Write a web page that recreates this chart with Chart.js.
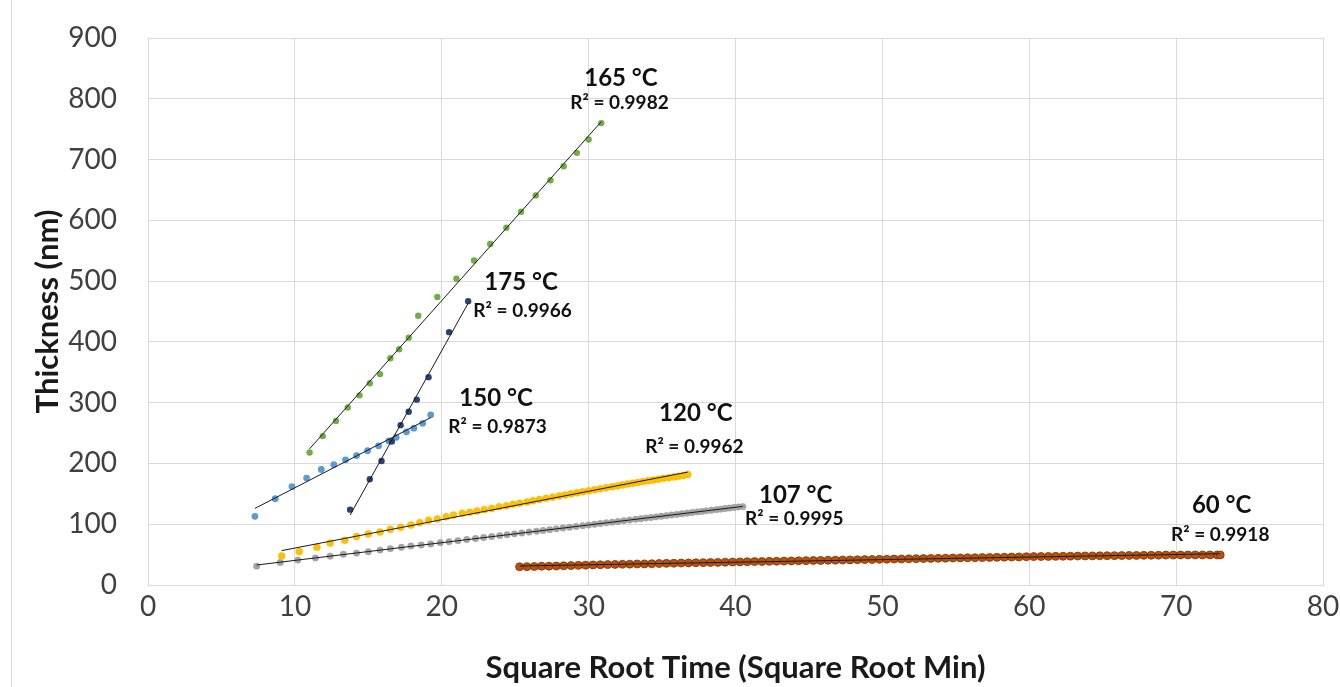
<!DOCTYPE html>
<html>
<head>
<meta charset="utf-8">
<script src="https://cdn.jsdelivr.net/npm/chart.js@4.4.1/dist/chart.umd.min.js"></script>
<style>
  html, body { margin: 0; padding: 0; background: #ffffff; overflow: hidden; }
  #wrap { width: 1340px; height: 687px; }
</style>
</head>
<body>
<div id="wrap"><canvas id="c" width="1340" height="687"></canvas></div>
<script>
// ---------------- DATA ----------------
const xTicks = [0, 10, 20, 30, 40, 50, 60, 70, 80];
const yTicks = [0, 100, 200, 300, 400, 500, 600, 700, 800, 900];

const seriesNames = ['165 °C', '175 °C', '150 °C', '120 °C', '107 °C', '60 °C'];
const rSquared = [0.9982, 0.9966, 0.9873, 0.9962, 0.9995, 0.9918];

// 165 °C
const t165X = [11.0, 11.9, 12.8, 13.6, 14.4, 15.1, 15.8, 16.5, 17.1, 17.75, 18.4, 19.7, 21.0, 22.2, 23.3, 24.4, 25.4, 26.4, 27.4, 28.3, 29.2, 30.0, 30.86];
const t165Y = [218, 245, 270, 292, 312, 332, 347, 373, 388, 407, 443, 474, 504, 534, 561, 588, 614, 641, 666, 689, 711, 733, 760];

// 175 °C
const t175X = [13.76, 15.1, 15.9, 16.6, 17.2, 17.75, 18.3, 19.1, 20.5, 21.8];
const t175Y = [124, 174, 204, 236, 263, 285, 305, 342, 416, 467];

// 150 °C
const t150X = [7.28, 8.66, 9.8, 10.8, 11.8, 12.65, 13.45, 14.2, 14.95, 15.7, 16.4, 16.9, 17.6, 18.1, 18.7, 19.25];
const t150Y = [113, 142, 162, 176, 190, 198, 206, 213, 221, 229, 237, 243, 252, 258, 266, 280];

// 120 °C
const t120X = [9.1, 10.3, 11.5, 12.4, 13.4, 14.2, 15.0, 15.8, 16.5, 17.2, 17.9, 18.5, 19.1, 19.7, 20.3, 20.8, 21.4, 21.9, 22.4, 22.9,
  23.4, 23.9, 24.4, 24.85, 25.3, 25.8, 26.2, 26.65, 27.1, 27.55, 28.0, 28.4, 28.8, 29.2, 29.6, 30.0, 30.4, 30.8, 31.2, 31.6,
  31.95, 32.3, 32.65, 33.0, 33.35, 33.7, 34.05, 34.4, 34.75, 35.1, 35.45, 35.8, 36.1, 36.45, 36.75];
const t120Y = [47.7, 55, 62, 69, 73.5, 80, 84, 87, 91.6, 95, 98.7, 102.5, 106.4, 108.6, 112.4, 115, 118, 119.5, 121.7, 124,
  126, 128.8, 130.2, 132.7, 134.4, 136.5, 138.7, 140.6, 142.7, 144.5, 146.6, 148.2, 150.0, 151.6, 153.3, 155.0, 156.6, 158.3, 160.0, 161.6,
  163.0, 164.5, 166.0, 167.4, 168.8, 170.2, 171.5, 172.8, 174.2, 175.5, 176.6, 177.8, 178.9, 180.2, 182.0];

// 107 °C
const t107X = [7.4, 9.0, 10.2, 11.4, 12.4, 13.3, 14.2, 15.0, 15.8, 16.5, 17.25, 17.9, 18.6, 19.25, 19.9, 20.5, 21.1, 21.7, 22.3, 22.85,
  23.4, 23.95, 24.45, 24.95, 25.45, 25.95, 26.45, 26.9, 27.35, 27.8, 28.25, 28.7, 29.15, 29.6, 30.0, 30.4, 30.8, 31.2, 31.6, 32.0,
  32.4, 32.8, 33.2, 33.55, 33.9, 34.25, 34.6, 34.95, 35.3, 35.65, 36.0, 36.35, 36.7, 37.05, 37.4, 37.7, 38.0, 38.35, 38.7, 39.0,
  39.3, 39.6, 39.9, 40.2, 40.5];
const t107Y = [31, 37, 41, 44.5, 47.5, 50.5, 52.5, 54.8, 57.4, 59.8, 62, 64.2, 65.8, 67.5, 69.6, 71.3, 73.0, 74.8, 76.5, 78.1,
  79.7, 81.3, 82.7, 84.2, 85.6, 87.1, 88.5, 89.8, 91.1, 92.4, 93.7, 95.0, 96.3, 97.6, 98.8, 100.0, 101.1, 102.3, 103.4, 104.6,
  105.8, 106.9, 108.1, 109.1, 110.1, 111.1, 112.1, 113.1, 114.1, 115.2, 116.2, 117.2, 118.2, 119.2, 120.3, 121.1, 122.0, 123.0, 124.0, 124.9,
  125.8, 126.6, 127.5, 128.3, 129.0];

// 60 °C
const t60X = [25.3, 25.8, 26.3, 26.8, 27.3, 27.8, 28.3, 28.8, 29.3, 29.8, 30.3, 30.8, 31.3, 31.8, 32.3, 32.8, 33.3, 33.8, 34.3, 34.8,
  35.3, 35.8, 36.3, 36.8, 37.3, 37.8, 38.3, 38.8, 39.3, 39.8, 40.3, 40.8, 41.3, 41.8, 42.3, 42.8, 43.3, 43.8, 44.3, 44.8,
  45.3, 45.8, 46.3, 46.8, 47.3, 47.8, 48.3, 48.8, 49.3, 49.8, 50.3, 50.8, 51.3, 51.8, 52.3, 52.8, 53.3, 53.8, 54.3, 54.8,
  55.3, 55.8, 56.3, 56.8, 57.3, 57.8, 58.3, 58.8, 59.3, 59.8, 60.3, 60.8, 61.3, 61.8, 62.3, 62.8, 63.3, 63.8, 64.3, 64.8,
  65.3, 65.8, 66.3, 66.8, 67.3, 67.8, 68.3, 68.8, 69.3, 69.8, 70.3, 70.8, 71.3, 71.8, 72.3, 72.8, 73.0];
const t60Y = [30.0, 30.2, 30.4, 30.9, 31.0, 31.2, 31.5, 31.9, 32.3, 32.7, 33.0, 33.3, 33.6, 33.9, 34.1, 34.3, 34.6, 34.7, 35.0, 35.4,
  35.6, 35.9, 36.1, 36.3, 36.6, 36.8, 37.0, 37.2, 37.5, 37.7, 38.0, 38.3, 38.5, 38.6, 38.9, 39.1, 39.3, 39.6, 39.8, 40.1,
  40.3, 40.4, 40.7, 40.9, 41.1, 41.3, 41.5, 41.8, 42.0, 42.2, 42.4, 42.7, 42.8, 43.1, 43.3, 43.5, 43.7, 43.9, 44.1, 44.4,
  44.6, 44.8, 44.9, 45.1, 45.4, 45.5, 45.8, 46.0, 46.2, 46.5, 46.7, 46.9, 47.0, 47.1, 47.3, 47.5, 47.6, 47.8, 47.9, 48.0,
  48.2, 48.3, 48.4, 48.6, 48.7, 48.8, 48.9, 49.1, 49.2, 49.3, 49.4, 49.4, 49.5, 49.4, 49.5, 49.4, 49.4];

// Label anchors, in data units (temperature label / R² label)
const nameAnchorX = [32.2, 25.4, 23.7, 37.3, 44.1, 73.1];
const nameAnchorY = [834, 498, 308, 283, 148, 132];
const r2AnchorX = [32.1, 25.5, 23.8, 37.2, 44.0, 73.0];
const r2AnchorY = [793, 451, 260, 227, 109, 82];

// ---------------- BUILD ----------------
const seriesX = [t165X, t175X, t150X, t120X, t107X, t60X];
const seriesY = [t165Y, t175Y, t150Y, t120Y, t107Y, t60Y];
const seriesStyle = [
  { fill: '#70AD47', border: '#70AD47', r: 3.2, bw: 0 },
  { fill: '#264478', border: '#264478', r: 3.2, bw: 0 },
  { fill: '#5B9BD5', border: '#5B9BD5', r: 3.4, bw: 0 },
  { fill: '#FFC000', border: '#F2B600', r: 3.5, bw: 0.5 },
  { fill: '#A5A5A5', border: '#989898', r: 3.2, bw: 0.5 },
  { fill: '#B9520E', border: '#7A3608', r: 4.0, bw: 0.8 }
];

function toPoints(xs, ys) { return xs.map((v, i) => ({ x: v, y: ys[i] })); }
function trend(xs, ys) {
  const n = xs.length;
  let sx = 0, sy = 0, sxx = 0, sxy = 0;
  for (let i = 0; i < n; i++) { sx += xs[i]; sy += ys[i]; sxx += xs[i] * xs[i]; sxy += xs[i] * ys[i]; }
  const b = (n * sxy - sx * sy) / (n * sxx - sx * sx);
  const a = (sy - b * sx) / n;
  const x0 = Math.min(...xs), x1 = Math.max(...xs);
  return [{ x: x0, y: a + b * x0 }, { x: x1, y: a + b * x1 }];
}

const datasets = [];
seriesX.forEach((xs, i) => {
  datasets.push({
    type: 'line',
    label: seriesNames[i] + ' trend',
    data: trend(xs, seriesY[i]),
    borderColor: '#1a1a1a',
    borderWidth: 1,
    pointRadius: 0,
    showLine: true,
    fill: false,
    order: 0
  });
});
seriesX.forEach((xs, i) => {
  const s = seriesStyle[i];
  datasets.push({
    type: 'scatter',
    label: seriesNames[i],
    data: toPoints(xs, seriesY[i]),
    backgroundColor: s.fill,
    borderColor: s.border,
    borderWidth: s.bw,
    pointRadius: s.r,
    showLine: false,
    order: 1 + i
  });
});

const bgPlugin = {
  id: 'bgFrame',
  beforeDraw(chart) {
    const ctx = chart.ctx;
    ctx.save();
    ctx.fillStyle = '#ffffff';
    ctx.fillRect(0, 0, chart.width, chart.height);
    ctx.strokeStyle = '#D9D9D9';
    ctx.lineWidth = 1;
    ctx.beginPath();
    ctx.moveTo(11.5, 0);
    ctx.lineTo(11.5, chart.height);
    ctx.stroke();
    ctx.restore();
  }
};

const labelPlugin = {
  id: 'tempLabels',
  afterDatasetsDraw(chart) {
    const { ctx } = chart;
    const xs = chart.scales.x, ys = chart.scales.y;
    ctx.save();
    ctx.textAlign = 'center';
    ctx.textBaseline = 'middle';
    ctx.fillStyle = '#111111';
    seriesNames.forEach((name, i) => {
      ctx.font = 'bold 24px Lato';
      ctx.fillText(name, xs.getPixelForValue(nameAnchorX[i]), ys.getPixelForValue(nameAnchorY[i]));
      ctx.font = 'bold 19px Lato';
      ctx.fillText('R² = ' + rSquared[i].toFixed(4), xs.getPixelForValue(r2AnchorX[i]), ys.getPixelForValue(r2AnchorY[i]));
    });
    ctx.restore();
  }
};

Chart.defaults.font.family = 'Lato';

new Chart(document.getElementById('c'), {
  type: 'scatter',
  data: { datasets },
  plugins: [bgPlugin, labelPlugin],
  options: {
    responsive: false,
    animation: false,
    devicePixelRatio: 1,
    layout: { padding: { top: 38, right: 17, left: 0, bottom: 0 } },
    plugins: { legend: { display: false }, tooltip: { enabled: false } },
    scales: {
      x: {
        type: 'linear',
        min: xTicks[0],
        max: xTicks[xTicks.length - 1],
        afterBuildTicks(scale) { scale.ticks = xTicks.map(v => ({ value: v })); },
        afterFit(scale) { scale.height = 102; },
        grid: { color: '#D9D9D9', lineWidth: 1, drawTicks: true, tickLength: 5, tickColor: 'rgba(0,0,0,0)' },
        border: { display: true, color: '#D9D9D9' },
        ticks: { color: '#404040', font: { size: 28 }, padding: 0 },
        title: {
          display: true,
          text: 'Square Root Time (Square Root Min)',
          color: '#1a1a1a',
          font: { size: 31, weight: 'bold' },
          padding: { top: 0, bottom: 0 }
        }
      },
      y: {
        type: 'linear',
        min: yTicks[0],
        max: yTicks[yTicks.length - 1],
        afterBuildTicks(scale) { scale.ticks = yTicks.map(v => ({ value: v })); },
        afterFit(scale) { scale.width = 148; },
        grid: { color: '#D9D9D9', lineWidth: 1, drawTicks: true, tickLength: 31, tickColor: 'rgba(0,0,0,0)' },
        border: { display: true, color: '#D9D9D9' },
        ticks: { color: '#404040', font: { size: 28 }, padding: 0 },
        title: {
          display: true,
          text: 'Thickness (nm)',
          color: '#1a1a1a',
          font: { size: 31, weight: 'bold' },
          padding: { top: 29, bottom: 0 }
        }
      }
    }
  }
});
</script>
</body>
</html>
